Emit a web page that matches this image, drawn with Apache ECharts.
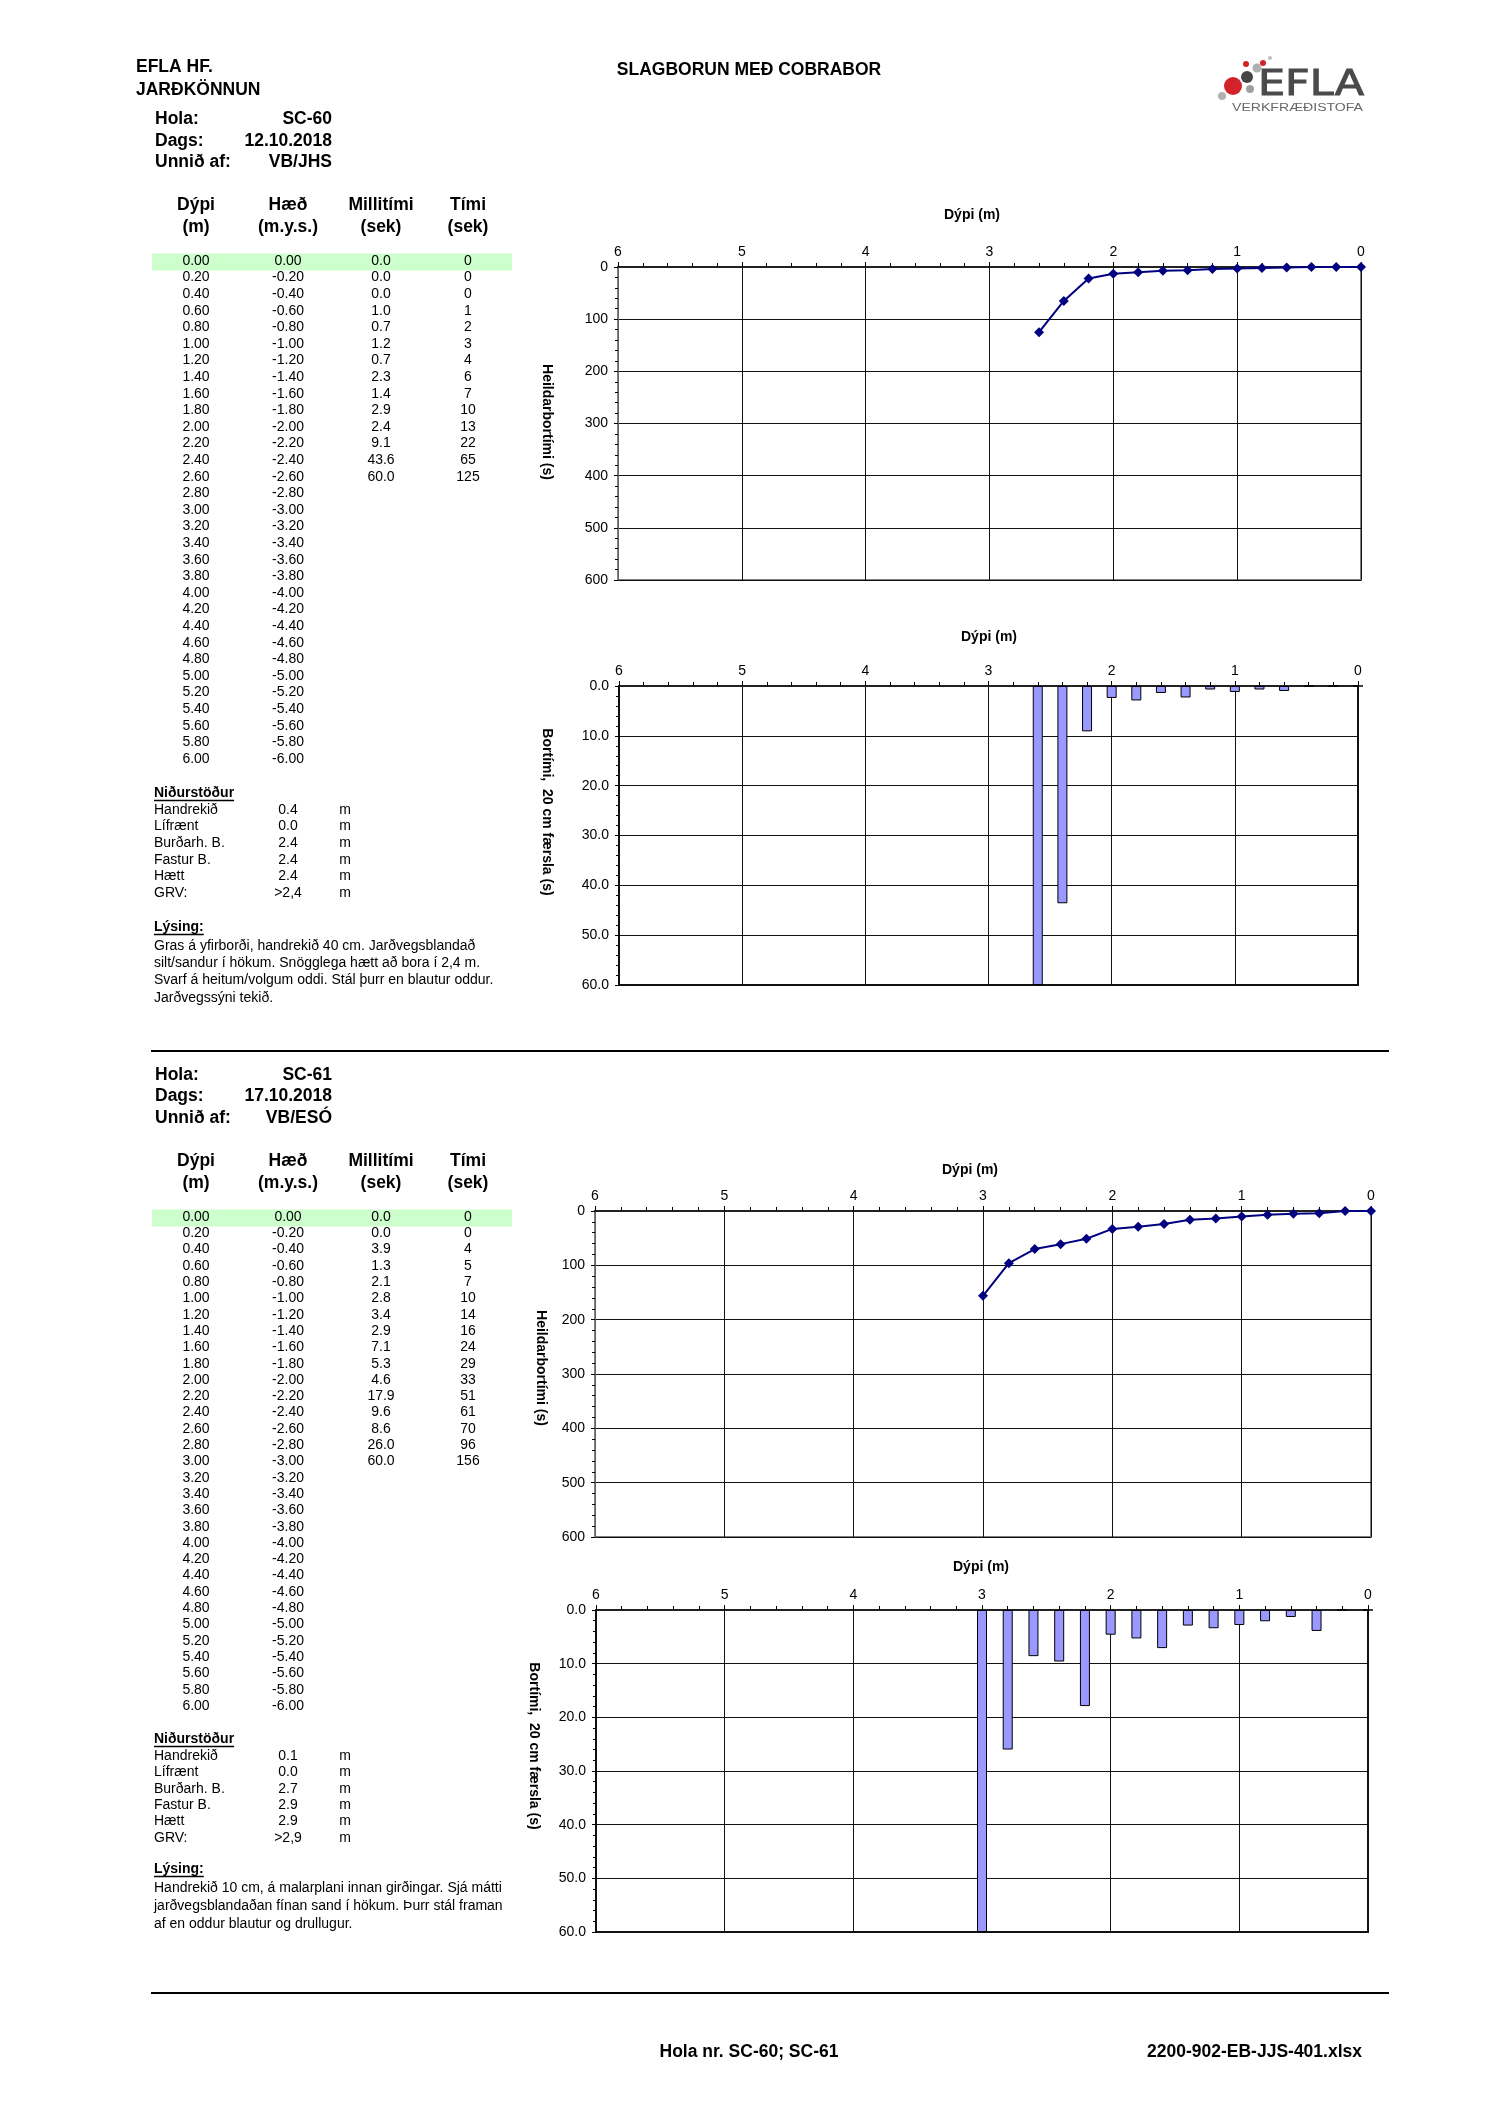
<!DOCTYPE html>
<html><head><meta charset="utf-8">
<script src="https://cdn.jsdelivr.net/npm/echarts@6/dist/echarts.min.js"></script>
<style>html,body{margin:0;padding:0;background:#fff}#c{width:1500px;height:2122px}</style>
</head><body><div id="c"></div>
<script>
const FONT = '"Liberation Sans", Arial, sans-serif';

// ---- shared table rows ----
const depthRows = [0.00,0.20,0.40,0.60,0.80,1.00,1.20,1.40,1.60,1.80,2.00,2.20,2.40,2.60,2.80,3.00,3.20,3.40,3.60,3.80,4.00,4.20,4.40,4.60,4.80,5.00,5.20,5.40,5.60,5.80,6.00];
const haedRows = [0.00,-0.20,-0.40,-0.60,-0.80,-1.00,-1.20,-1.40,-1.60,-1.80,-2.00,-2.20,-2.40,-2.60,-2.80,-3.00,-3.20,-3.40,-3.60,-3.80,-4.00,-4.20,-4.40,-4.60,-4.80,-5.00,-5.20,-5.40,-5.60,-5.80,-6.00];
const headRow1 = ['Dýpi','Hæð','Millitími','Tími'];
const headRow2 = ['(m)','(m.y.s.)','(sek)','(sek)'];
const nidLabels = ['Handrekið','Lífrænt','Burðarh. B.','Fastur B.','Hætt','GRV:'];

// ---- hole SC-60 ----
const hole60 = 'SC-60', date60 = '12.10.2018', by60 = 'VB/JHS';
const milli60 = [0.0,0.0,0.0,1.0,0.7,1.2,0.7,2.3,1.4,2.9,2.4,9.1,43.6,60.0];
const timi60  = [0,0,0,1,2,3,4,6,7,10,13,22,65,125];
const nid60   = ['0.4','0.0','2.4','2.4','2.4','>2,4'];
const lys60   = ['Gras á yfirborði, handrekið 40 cm. Jarðvegsblandað',
                 'silt/sandur í hökum. Snögglega hætt að bora í 2,4 m.',
                 'Svarf á heitum/volgum oddi. Stál þurr en blautur oddur.',
                 'Jarðvegssýni tekið.'];

// ---- hole SC-61 ----
const hole61 = 'SC-61', date61 = '17.10.2018', by61 = 'VB/ESÓ';
const milli61 = [0.0,0.0,3.9,1.3,2.1,2.8,3.4,2.9,7.1,5.3,4.6,17.9,9.6,8.6,26.0,60.0];
const timi61  = [0,0,4,5,7,10,14,16,24,29,33,51,61,70,96,156];
const nid61   = ['0.1','0.0','2.7','2.9','2.9','>2,9'];
const lys61   = ['Handrekið 10 cm, á malarplani innan girðingar. Sjá mátti',
                 'jarðvegsblandaðan fínan sand í hökum. Þurr stál framan',
                 'af en oddur blautur og drullugur.'];

// ---- axis ticks ----
const depthMin = 0, depthMax = 6, depthStep = 1;
const totMin = 0, totMax = 600, totStep = 100;
const barMin = 0, barMax = 60, barStep = 10;

const mctx = document.createElement('canvas').getContext('2d');
function tw(s, size, weight, fam) { mctx.font = (weight || 'normal') + ' ' + size + 'px ' + (fam || FONT); return mctx.measureText(s).width; }

const G = [];
function T(x, y, s, o) {
  G.push({type:'text', x:x, y:y, silent:true, z:10,
    style:Object.assign({text:s, fill:'#000', fontFamily:FONT, fontSize:14, fontWeight:'normal', align:'left', verticalAlign:'middle'}, o || {})});
}
function L(x1, y1, x2, y2, w, c) {
  G.push({type:'line', silent:true, z:10, shape:{x1:x1, y1:y1, x2:x2, y2:y2}, style:{stroke:c || '#000', lineWidth:w || 1}});
}
const B17 = {fontSize:17.5, fontWeight:'bold'};
const colX = [196, 288, 381, 468];

function section(s) {
  const labs = ['Hola:', 'Dags:', 'Unnið af:'];
  const vals = [s.hole, s.date, s.by];
  for (let k = 0; k < 3; k++) {
    T(155, s.yHola[k], labs[k], B17);
    T(332, s.yHola[k], vals[k], Object.assign({}, B17, {align:'right'}));
  }
  colX.forEach((cx, i) => {
    T(cx, s.yHead, headRow1[i], Object.assign({}, B17, {align:'center'}));
    T(cx, s.yHead + 22, headRow2[i], Object.assign({}, B17, {align:'center'}));
  });
  G.push({type:'rect', silent:true, z:5, shape:{x:152, y:s.yRow0 - 7.5, width:360, height:17}, style:{fill:'#ccffcc'}});
  depthRows.forEach((d, i) => {
    const y = s.yRow0 + i * s.rowStep;
    const c = {align:'center', fontSize:14};
    T(colX[0], y, d.toFixed(2), c);
    T(colX[1], y, haedRows[i].toFixed(2), c);
    if (i < s.milli.length) {
      T(colX[2], y, s.milli[i].toFixed(1), c);
      T(colX[3], y, String(s.timi[i]), c);
    }
  });
  const bt = {fontSize:14, fontWeight:'bold'};
  T(154, s.yNid, 'Niðurstöður', bt);
  L(154, s.yNid + 7.5, 154 + tw('Niðurstöður', 14, 'bold'), s.yNid + 7.5, 1.3);
  nidLabels.forEach((lab, k) => {
    const y = s.yNid + 17 + k * s.nidStep;
    T(154, y, lab, {fontSize:14});
    T(288, y, s.nid[k], {fontSize:14, align:'center'});
    T(345, y, 'm', {fontSize:14, align:'center'});
  });
  T(154, s.yLys, 'Lýsing:', bt);
  L(154, s.yLys + 7.5, 154 + tw('Lýsing:', 14, 'bold'), s.yLys + 7.5, 1.3);
  s.lys.forEach((ln, k) => T(154, s.yLys + 19 + k * s.lysStep, ln, {fontSize:14}));
}

// page header
T(136, 67, 'EFLA HF.', {fontSize:17.5, fontWeight:'bold'});
T(136, 90, 'JARÐKÖNNUN', {fontSize:17.5, fontWeight:'bold'});
T(749, 70, 'SLAGBORUN MEÐ COBRABOR', {fontSize:17.5, fontWeight:'bold', align:'center'});

// logo
const dots = [[1233,86,9,'#d2232a'],[1247,77,6,'#454545'],[1250,89,4,'#a0a0a0'],[1257,68,4.5,'#b0b0b0'],
              [1246,64,3,'#d2232a'],[1263,63,3,'#d2232a'],[1270,58,2,'#c0c0c0'],[1222,96,4,'#b0b0b0']];
dots.forEach(d => G.push({type:'circle', silent:true, z:10, shape:{cx:d[0], cy:d[1], r:d[2]}, style:{fill:d[3]}}));
(function(){
  const w1 = tw('EFLA', 36, 'normal', '"DejaVu Sans"');
  G.push({type:'text', x:1258, y:86, scaleX:106 / w1, silent:true, z:10,
    style:{text:'EFLA', fill:'#4a4a4c', fontFamily:'"DejaVu Sans"', fontSize:36, align:'left', verticalAlign:'middle',
      stroke:'#4a4a4c', lineWidth:1}});
  const w2 = tw('VERKFRÆÐISTOFA', 10, 'normal');
  G.push({type:'text', x:1232, y:108, scaleX:131 / w2, silent:true, z:10,
    style:{text:'VERKFRÆÐISTOFA', fill:'#666', fontFamily:FONT, fontSize:10, align:'left', verticalAlign:'middle'}});
})();

section({hole:hole60, date:date60, by:by60, yHola:[119,141,162], yHead:205, yRow0:261, rowStep:16.6,
  milli:milli60, timi:timi60, yNid:793, nidStep:16.6, nid:nid60, yLys:927, lysStep:17.3, lys:lys60});
section({hole:hole61, date:date61, by:by61, yHola:[1075,1096,1118], yHead:1161, yRow0:1217, rowStep:16.3,
  milli:milli61, timi:timi61, yNid:1739, nidStep:16.4, nid:nid61, yLys:1869, lysStep:18, lys:lys61});

// separators & footer
L(151, 1051, 1389, 1051, 2);
L(151, 1993, 1389, 1993, 2);
T(749, 2052, 'Hola nr. SC-60; SC-61', {fontSize:17.5, fontWeight:'bold', align:'center'});
T(1362, 2052, '2200-902-EB-JJS-401.xlsx', {fontSize:17.5, fontWeight:'bold', align:'right'});

// chart titles / y names
const chartTitles = [[972,215],[989,637],[970,1170],[981,1567]];
chartTitles.forEach(p => T(p[0], p[1], 'Dýpi (m)', {fontSize:14, fontWeight:'bold', align:'center'}));
const yNames = [[547,422,'Heildarbortími (s)'],[547,812,'Bortími,  20 cm færsla (s)'],[541,1368,'Heildarbortími (s)'],[534,1746,'Bortími,  20 cm færsla (s)']];
yNames.forEach(p => G.push({type:'text', x:p[0], y:p[1], rotation:-Math.PI/2, silent:true, z:10,
  style:{text:p[2], fill:'#000', fontFamily:FONT, fontSize:14, fontWeight:'bold', align:'center', verticalAlign:'middle'}}));

// ---- charts ----
const grids = [
  {left:618, top:267, width:743, height:313, show:true, borderColor:'#808080', borderWidth:2, outerBoundsMode:'none'},
  {left:619, top:686, width:739, height:299, show:true, borderColor:'#111', borderWidth:2, outerBoundsMode:'none'},
  {left:595, top:1211, width:776, height:326, show:true, borderColor:'#808080', borderWidth:2, outerBoundsMode:'none'},
  {left:596, top:1610, width:772, height:322, show:true, borderColor:'#111', borderWidth:2, outerBoundsMode:'none'}
];
const xAxes = grids.map((g, i) => ({
  gridIndex:i, type:'value', min:depthMin, max:depthMax, interval:depthStep, inverse:true, position:'top',
  axisLine:{show:true, onZero:false, lineStyle:{color:'#222', width:2}},
  axisTick:{show:true, inside:false, length:5, lineStyle:{color:'#000', width:1}},
  minorTick:{show:true, splitNumber:5, length:4, lineStyle:{color:'#000', width:1}},
  axisLabel:{show:true, color:'#000', fontSize:14, fontFamily:FONT, margin:8, showMinLabel:true, showMaxLabel:true},
  splitLine:{show:true, lineStyle:{color:'#111', width:1}}
}));
const yAxes = grids.map((g, i) => {
  const bar = (i % 2 === 1);
  return {
    gridIndex:i, type:'value', inverse:true,
    min: bar ? barMin : totMin, max: bar ? barMax : totMax, interval: bar ? barStep : totStep,
    axisLine:{show:true, onZero:false, lineStyle:{color: bar ? '#111' : '#808080', width:1.5}},
    axisTick:{show:true, inside:false, length:4, lineStyle:{color:'#000'}},
    minorTick:{show:true, splitNumber:5, length:3, lineStyle:{color:'#000'}},
    axisLabel:{show:true, color:'#000', fontSize:14, fontFamily:FONT, margin:10, showMinLabel:true, showMaxLabel:true,
      formatter: bar ? (v => v.toFixed(1)) : (v => String(v))},
    splitLine:{show:true, lineStyle:{color:'#111', width:1}}
  };
});
const pts = (vals) => vals.map((v, i) => [depthRows[i], v]);
const lineStyle = (xi) => ({type:'line', xAxisIndex:xi, yAxisIndex:xi, symbol:'diamond', symbolSize:10,
  lineStyle:{color:'#000080', width:2}, itemStyle:{color:'#000080'}, z:5});
const barStyle = (xi) => ({type:'bar', xAxisIndex:xi, yAxisIndex:xi, barWidth:10,
  itemStyle:{color:'#9999ff', borderColor:'#000', borderWidth:1}, z:5});

const option = {
  animation:false,
  backgroundColor:'#fff',
  textStyle:{fontFamily:FONT},
  grid:grids, xAxis:xAxes, yAxis:yAxes,
  series:[
    Object.assign(lineStyle(0), {name:'SC-60 tími', data:pts(timi60)}),
    Object.assign(barStyle(1), {name:'SC-60 millitími', data:pts(milli60)}),
    Object.assign(lineStyle(2), {name:'SC-61 tími', data:pts(timi61)}),
    Object.assign(barStyle(3), {name:'SC-61 millitími', data:pts(milli61)})
  ],
  graphic:{elements:G}
};
const chart = echarts.init(document.getElementById('c'), null, {renderer:'canvas', width:1500, height:2122});
chart.setOption(option);
</script></body></html>
